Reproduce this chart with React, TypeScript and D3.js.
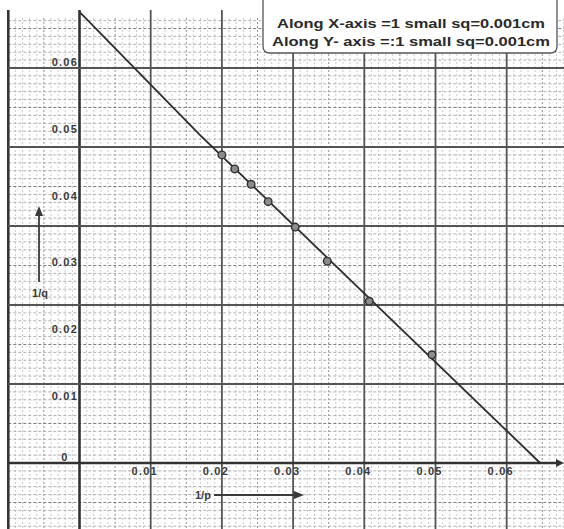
import React from "react";
import * as d3 from "d3";

// values
const invP = [0.02, 0.0218, 0.0241, 0.0265, 0.0303, 0.0348, 0.0407, 0.0495];
const invQ = [0.0461, 0.044, 0.0417, 0.0391, 0.0353, 0.0302, 0.0242, 0.0162];
// hand-drawn straight line (slight kink from the scan)
const fitP = [0, 0.0169, 0.0647];
const fitQ = [0.0675, 0.0491, 0];
const xTicks = [0.01, 0.02, 0.03, 0.04, 0.05, 0.06];
const yTicks = [0, 0.01, 0.02, 0.03, 0.04, 0.05, 0.06];
const scaleLines = [
  "Along X-axis =1 small sq=0.001cm",
  "Along Y- axis =:1 small sq=0.001cm",
];

const W = 564;
const H = 529;

const App: React.FC = () => {
  const x = d3.scaleLinear().domain([0, 0.06]).range([79.5, 506.7]);
  const y = d3.scaleLinear().domain([0, 0.06]).range([463, 62]);
  // graph paper rows (small squares) don't follow the label spacing on y
  const paperY = d3.scaleLinear().domain([0, 50]).range([463, 68]);

  const top = 10;
  const left = x(-0.01);

  const vCols = d3.range(-10, 69).filter((i) => x(i * 0.001) < W);
  const hRows = d3.range(-10, 57).filter((j) => paperY(j) > top && paperY(j) < H);

  const line = d3
    .line<number>()
    .x((d) => x(fitP[d]))
    .y((d) => y(fitQ[d]));

  const font = "'Liberation Sans', Arial, sans-serif";
  const ink = "#3a3a3a";

  return (
    <div style={{ position: "absolute", left: 0, top: 0 }}>
      <svg width={W} height={H} style={{ display: "block", background: "#fff" }}>
        {/* minor grid */}
        <g>
          {vCols
            .filter((i) => i % 10 !== 0)
            .map((i) => (
              <line
                key={"v" + i}
                x1={x(i * 0.001)}
                x2={x(i * 0.001)}
                y1={top + 8}
                y2={H}
                stroke={i % 5 === 0 ? "#909090" : "#bcbcbc"}
                strokeWidth={i % 5 === 0 ? 1 : 0.8}
                strokeDasharray="2,2"
              />
            ))}
          {hRows
            .filter((j) => j % 10 !== 0)
            .map((j) => (
              <line
                key={"h" + j}
                x1={left}
                x2={W}
                y1={paperY(j)}
                y2={paperY(j)}
                stroke={j % 5 === 0 ? "#808080" : "#a8a8a8"}
                strokeWidth={j % 5 === 0 ? 1.1 : 0.9}
                strokeDasharray="3,2"
              />
            ))}
        </g>
        {/* major grid */}
        <g stroke="#555" strokeWidth={1.8}>
          {vCols
            .filter((i) => i % 10 === 0)
            .map((i) => (
              <line
                key={"V" + i}
                x1={x(i * 0.001)}
                x2={x(i * 0.001)}
                y1={top}
                y2={H}
                strokeWidth={i === 0 || i === -10 ? 2.6 : 1.8}
                stroke={i === 0 || i === -10 ? "#333" : "#555"}
              />
            ))}
          {hRows
            .filter((j) => j % 10 === 0 && j !== 0)
            .map((j) => (
              <line key={"H" + j} x1={left} x2={W} y1={paperY(j)} y2={paperY(j)} />
            ))}
        </g>

        {/* x axis with arrow */}
        <line x1={left} x2={556} y1={y(0)} y2={y(0)} stroke="#333" strokeWidth={2.6} />
        <path d={`M556,${y(0) - 4}L564,${y(0)}L556,${y(0) + 4}Z`} fill="#333" />

        {/* fitted line */}
        <path d={line(d3.range(fitP.length)) || ""} fill="none" stroke="#2e2e2e" strokeWidth={1.8} />

        {/* data points */}
        <g>
          {invP.map((p, i) => (
            <circle
              key={i}
              cx={x(p)}
              cy={y(invQ[i])}
              r={3.8}
              fill="#8c8c8c"
              stroke="#2e2e2e"
              strokeWidth={1.4}
            />
          ))}
        </g>

        {/* tick labels */}
        <g fontFamily={font} fontWeight="bold" fontSize={11} letterSpacing={1.2} fill={ink}>
          {xTicks.map((t) => (
            <text key={"xt" + t} x={x(t) - 6} y={475} textAnchor="middle">
              {t.toFixed(2)}
            </text>
          ))}
          {yTicks.map((t) =>
            t === 0 ? (
              <text key="yt0" x={65} y={y(0) - 2} textAnchor="middle">
                0
              </text>
            ) : (
              <text key={"yt" + t} x={78} y={y(t)} dy="0.35em" textAnchor="end">
                {t.toFixed(2)}
              </text>
            )
          )}
        </g>

        {/* axis names with arrows */}
        <g fill={ink} stroke={ink}>
          <line x1={39} x2={39} y1={282} y2={214} strokeWidth={1.8} />
          <path d="M35,216L39,206L43,216Z" stroke="none" />
          <line x1={214} x2={296} y1={495} y2={495} strokeWidth={1.8} />
          <path d="M294,491L304,495L294,499Z" stroke="none" />
        </g>
        <g fontFamily={font} fontWeight="bold" fontSize={11} fill={ink}>
          <text x={40} y={297} textAnchor="middle">1/q</text>
          <text x={195} y={499}>1/p</text>
        </g>

        {/* scale box */}
        <path
          d="M263,-4V46Q263,53 270,53H550Q557,53 557,46V-4"
          fill="#fff"
          stroke="#555"
          strokeWidth={1.3}
        />
        <g fontFamily={font} fontWeight="bold" fontSize={13.5} fill="#2a2a2a">
          <text x={277} y={28} textLength={268} lengthAdjust="spacingAndGlyphs">
            {scaleLines[0]}
          </text>
          <text x={272} y={46} textLength={278} lengthAdjust="spacingAndGlyphs">
            {scaleLines[1]}
          </text>
        </g>
      </svg>
    </div>
  );
};

export default App;
